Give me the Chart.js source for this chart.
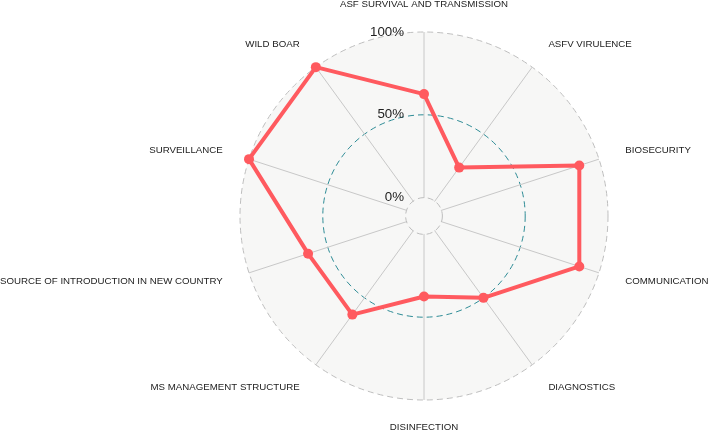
<!DOCTYPE html>
<html>
<head>
<meta charset="utf-8">
<title>ASF radar</title>
<script src="https://cdn.jsdelivr.net/npm/chart.js@4.4.0/dist/chart.umd.min.js"></script>
<style>
  html, body { margin: 0; padding: 0; background: #fff; }
  #wrap { width: 709px; height: 433px; position: relative; }
</style>
</head>
<body>
<div id="wrap"><canvas id="radar"></canvas></div>
<script>
// axes, clockwise from the top
var categories = [
  "ASF SURVIVAL AND TRANSMISSION",
  "ASFV VIRULENCE",
  "BIOSECURITY",
  "COMMUNICATION",
  "DIAGNOSTICS",
  "DISINFECTION",
  "MS MANAGEMENT STRUCTURE",
  "SOURCE OF INTRODUCTION IN NEW COUNTRY",
  "SURVEILLANCE",
  "WILD BOAR"
];
var scores = [62.5, 25, 87.5, 87.5, 50, 37.5, 62.5, 62.5, 100, 100];
var gridValues = [0, 50, 100];
var gridLabels = ["0%", "50%", "100%"];
var centreValue = -100 / 9;   // empty hole in the middle like ggradar

var bgColour = "#F7F7F6";
var lineColour = "#FF5A5F";

// draws the hole, the % labels and the axis names
var radarDecor = {
  id: "radarDecor",
  beforeDatasetsDraw: function(chart) {
    var scale = chart.scales.r;
    var ctx = chart.ctx;
    var r0 = scale.getDistanceFromCenterForValue(0);
    ctx.save();
    ctx.beginPath();
    ctx.arc(scale.xCenter, scale.yCenter, r0 - 0.5, 0, Math.PI * 2);
    ctx.fillStyle = bgColour;
    ctx.fill();
    ctx.beginPath();
    ctx.setLineDash([6, 4]);
    ctx.strokeStyle = "#BEBEBE";
    ctx.lineWidth = 1;
    ctx.arc(scale.xCenter, scale.yCenter, r0, 0, Math.PI * 2);
    ctx.stroke();
    ctx.restore();
  },
  afterDatasetsDraw: function(chart) {
    var scale = chart.scales.r;
    var ctx = chart.ctx;
    ctx.save();
    ctx.fillStyle = "#222";
    ctx.textBaseline = "middle";

    // grid labels left of the top axis
    ctx.font = "13.3px 'Liberation Sans', Arial, sans-serif";
    ctx.textAlign = "right";
    for (var i = 0; i < gridValues.length; i++) {
      var d = scale.getDistanceFromCenterForValue(gridValues[i]);
      ctx.fillText(gridLabels[i], scale.xCenter - 20, scale.yCenter - d);
    }

    // axis names a bit outside the outer circle
    ctx.font = "9.7px 'Liberation Sans', Arial, sans-serif";
    var outer = scale.getDistanceFromCenterForValue(100) * 1.15;
    for (var j = 0; j < categories.length; j++) {
      var p = scale.getPointPosition(j, outer);
      var dx = p.x - scale.xCenter;
      ctx.textAlign = Math.abs(dx) < 1 ? "center" : (dx > 0 ? "left" : "right");
      ctx.fillText(categories[j], p.x, p.y);
    }
    ctx.restore();
  }
};

var ctx = document.getElementById("radar");
var radar = new Chart(ctx, {
  type: "radar",
  data: {
    labels: categories,
    datasets: [{
      data: scores,
      fill: false,
      borderColor: lineColour,
      backgroundColor: lineColour,
      borderWidth: 4,
      borderJoinStyle: "round",
      pointRadius: 5,
      pointBorderWidth: 0,
      pointBackgroundColor: lineColour,
      tension: 0
    }]
  },
  options: {
    responsive: true,
    maintainAspectRatio: false,
    animation: false,
    layout: { padding: { top: 32, bottom: 33, left: 200, right: 61 } },
    plugins: {
      legend: { display: false },
      tooltip: { enabled: false }
    },
    scales: {
      r: {
        min: centreValue,
        max: 100,
        startAngle: 0,
        backgroundColor: bgColour,
        afterBuildTicks: function(s) {
          s.ticks = [centreValue].concat(gridValues).map(function(v) { return { value: v }; });
        },
        ticks: { display: false },
        pointLabels: { display: false },
        grid: {
          circular: true,
          lineWidth: 1,
          color: function(c) {
            if (!c.tick) return "#BEBEBE";
            if (c.tick.value === 50) return "#2E8C96";
            if (c.tick.value === 100) return "#BEBEBE";
            return "rgba(0,0,0,0)";
          }
        },
        border: { dash: [6, 4] },
        angleLines: { color: "#C8C8C8", lineWidth: 1 }
      }
    }
  },
  plugins: [radarDecor]
});
</script>
</body>
</html>
